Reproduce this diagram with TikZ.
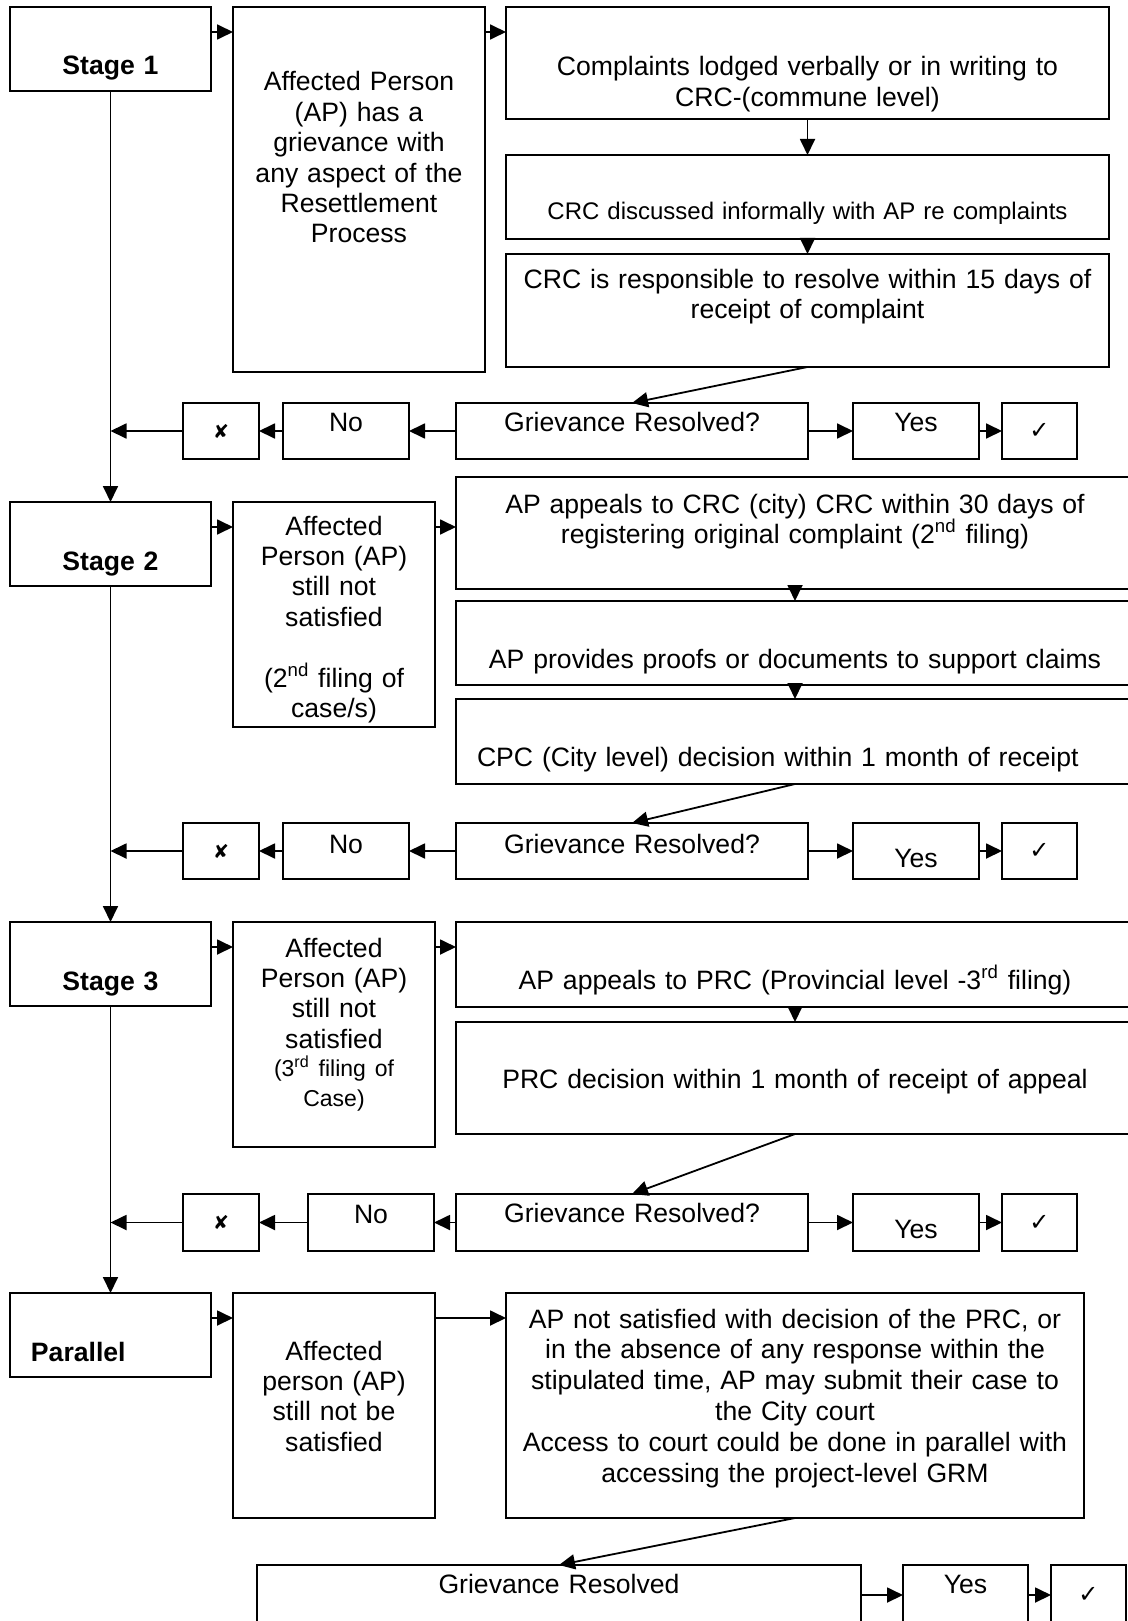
\documentclass[tikz,border=0pt]{standalone}
\usepackage{fontspec}
\setmainfont{Liberation Sans}
\newfontfamily\dejavu{DejaVu Sans}
\usetikzlibrary{arrows.meta}

\begin{document}
\begin{tikzpicture}[x=0.5pt, y=-0.5pt,
  box/.style={draw, line width=1pt, anchor=north west, outer sep=0pt,
    inner xsep=2pt, inner ysep=0pt, align=center,
    font=\fontsize{13.3}{15.2}\selectfont},
  stagebox/.style={box, text width=96.5pt, text height=34pt, text depth=8pt,
    font=\fontsize{13.3}{15.2}\selectfont\bfseries},
  signbox/.style={draw, line width=1pt, anchor=north west, outer sep=0pt,
    inner sep=0pt, minimum width=37.5pt, minimum height=28pt},
  cross/.style={signbox, minimum width=38pt, font=\dejavu\fontsize{9.5}{9.5}\selectfont},
  tick/.style={signbox, font=\dejavu\fontsize{12}{12}\selectfont},
  arr/.style={-{Triangle[length=8pt,width=7.5pt]}, line width=0.9pt}]

\useasboundingbox (0,0) rectangle (1128,1621);
\fill[white] (0,0) rectangle (1128,1621);
\clip (0,0) rectangle (1128,1621);

% Stage 1
\node[stagebox] (s1) at (10,7) {Stage 1};
\node[box, text width=122pt, text height=42pt, text depth=140.5pt] (ap1) at (233,7)
  {Affected Person\\(AP) has a\\grievance with\\any aspect of the\\Resettlement\\Process};
\node[box, text width=297.5pt, text height=34.5pt, text depth=21.5pt] (c1) at (506,7)
  {Complaints lodged verbally or in writing to\\CRC-(commune level)};
\node[box, text width=297.5pt, text height=32.5pt, text depth=9.5pt,
  font=\fontsize{12}{14}\selectfont] (c2) at (506,155)
  {CRC discussed informally with AP re complaints};
\node[box, text width=297.5pt, text height=17pt, text depth=39.5pt] (c3) at (506,254)
  {CRC is responsible to resolve within 15 days of\\receipt of complaint};
\node[cross] (x1) at (183,403) {✘};
\node[box, text width=59pt, text height=14pt, text depth=14pt] (n1) at (283,403) {No};
\node[box, text width=172pt, text height=14pt, text depth=14pt] (g1) at (456,403) {Grievance Resolved?};
\node[box, text width=59pt, text height=14pt, text depth=14pt] (y1) at (853,403) {Yes};
\node[tick] (k1) at (1002,403) {✓};

% Stage 2
\node[stagebox] (s2) at (10,502) {Stage 2};
\node[box, text width=97pt, text height=16.5pt, text depth=96pt] (ap2) at (233,502)
  {Affected\\Person (AP)\\still not\\satisfied\\[15.2pt](2\textsuperscript{nd} filing of\\case/s)};
\node[box, text width=335pt, text height=18pt, text depth=38pt] (a2) at (456,477)
  {AP appeals to CRC (city) CRC within 30 days of\\registering original complaint (2\textsuperscript{nd} filing)};
\node[box, text width=335pt, text height=33.5pt, text depth=8.5pt] (p2) at (456,601)
  {AP provides proofs or documents to support claims};
\node[box, align=left, inner xsep=10.5pt, text width=318pt, text height=33.5pt, text depth=9pt] (d2) at (456,699)
  {CPC (City level) decision within 1 month of receipt};
\node[cross] (x2) at (183,823) {✘};
\node[box, text width=59pt, text height=15pt, text depth=13pt] (n2) at (283,823) {No};
\node[box, text width=172pt, text height=15pt, text depth=13pt] (g2) at (456,823) {Grievance Resolved?};
\node[box, text width=59pt, text height=22pt, text depth=6pt] (y2) at (853,823) {Yes};
\node[tick] (k2) at (1002,823) {✓};

% Stage 3
\node[stagebox] (s3) at (10,922) {Stage 3};
\node[box, text width=97pt, text height=17.5pt, text depth=95pt] (ap3) at (233,922)
  {Affected\\Person (AP)\\still not\\satisfied\\{\fontsize{11.5}{14}\selectfont(3\textsuperscript{rd} filing of\\Case)}};
\node[box, text width=335pt, text height=33.5pt, text depth=9pt] (a3) at (456,922)
  {AP appeals to PRC (Provincial level -3\textsuperscript{rd} filing)};
\node[box, text width=335pt, text height=33pt, text depth=23pt] (r3) at (456,1022)
  {PRC decision within 1 month of receipt of appeal};
\node[cross, minimum height=28.5pt] (x3) at (183,1194) {✘};
\node[box, text width=59pt, text height=14.5pt, text depth=14pt] (n3) at (308,1194) {No};
\node[box, text width=172pt, text height=14pt, text depth=14.5pt] (g3) at (456,1194) {Grievance Resolved?};
\node[box, text width=59pt, text height=22pt, text depth=6.5pt] (y3) at (853,1194) {Yes};
\node[tick, minimum height=28.5pt] (k3) at (1002,1194) {✓};

% Parallel
\node[stagebox, align=left, inner xsep=10.5pt, text width=79.5pt] (s4) at (10,1293) {Parallel};
\node[box, text width=97pt, text height=33.5pt, text depth=79pt] (ap4) at (233,1293)
  {Affected\\person (AP)\\still not be\\satisfied};
\node[box, text width=285pt, text height=17.5pt, text depth=95pt,
  font=\fontsize{13.3}{15.4}\selectfont] (ct) at (506,1293)
  {AP not satisfied with decision of the PRC, or\\in the absence of any response within the\\stipulated time, AP may submit their case to\\the City court\\Access to court could be done in parallel with\\accessing the project-level GRM};
\node[box, text width=298pt, text height=14pt, text depth=16pt] (g4) at (257,1565) {Grievance Resolved};
\node[box, text width=58.5pt, text height=14pt, text depth=16pt] (y4) at (903,1565) {Yes};
\node[tick, minimum height=30pt] (k4) at (1051,1565) {✓};

% connectors
\draw[arr] ([yshift=-12.5pt]s1.north east) -- ([yshift=-12.5pt]ap1.north west);
\draw[arr] ([yshift=-12.5pt]ap1.north east) -- ([yshift=-12.5pt]c1.north west);
\draw[arr] (c1) -- (c2);
\draw[arr] (c2) -- (c3);
\draw[arr] (c3.south) -- (g1.north);
\draw[arr] (g1) -- (y1);
\draw[arr] (y1) -- (k1);
\draw[arr] (g1) -- (n1);
\draw[arr] (n1) -- (x1);
\draw[arr] (x1.west) -- (x1.west -| s1.south);
\draw[arr] (s1) -- (s2);

\draw[arr] ([yshift=-12.5pt]s2.north east) -- ([yshift=-12.5pt]ap2.north west);
\draw[arr] ([yshift=-12.5pt]ap2.north east) coordinate (t2) -- (t2 -| a2.west);
\draw[arr] (a2) -- (p2);
\draw[arr] (p2) -- (d2);
\draw[arr] (d2.south) -- (g2.north);
\draw[arr] (g2) -- (y2);
\draw[arr] (y2) -- (k2);
\draw[arr] (g2) -- (n2);
\draw[arr] (n2) -- (x2);
\draw[arr] (x2.west) -- (x2.west -| s2.south);
\draw[arr] (s2) -- (s3);

\draw[arr] ([yshift=-12.5pt]s3.north east) -- ([yshift=-12.5pt]ap3.north west);
\draw[arr] ([yshift=-12.5pt]ap3.north east) -- ([yshift=-12.5pt]a3.north west);
\draw[arr] (a3) -- (r3);
\draw[arr] (r3.south) -- (g3.north);
\draw[arr] (g3) -- (y3);
\draw[arr] (y3) -- (k3);
\draw[arr] (g3) -- (n3);
\draw[arr] (n3) -- (x3);
\draw[arr] (x3.west) -- (x3.west -| s3.south);
\draw[arr] (s3) -- (s4);

\draw[arr] ([yshift=-12.5pt]s4.north east) -- ([yshift=-12.5pt]ap4.north west);
\draw[arr] ([yshift=-12.5pt]ap4.north east) -- ([yshift=-12.5pt]ct.north west);
\draw[arr] (ct.south) -- (g4.north);
\draw[arr] (g4) -- (y4);
\draw[arr] (y4) -- (k4);
\end{tikzpicture}
\end{document}
